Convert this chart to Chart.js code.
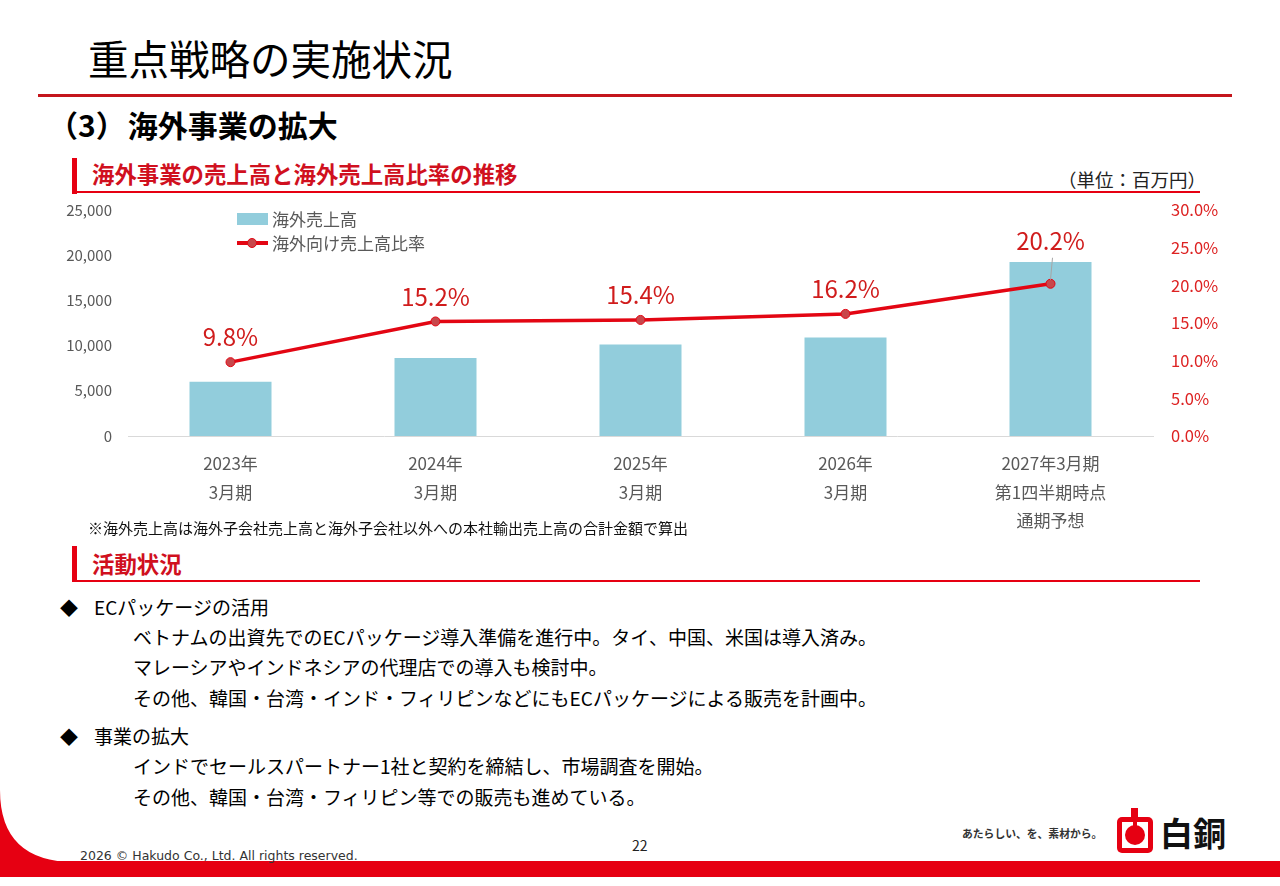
<!DOCTYPE html>
<html lang="ja">
<head>
<meta charset="utf-8">
<title>重点戦略の実施状況</title>
<script src="https://cdn.jsdelivr.net/npm/chart.js@4.4.1/dist/chart.umd.min.js"></script>
<style>
  html, body { margin: 0; padding: 0; background: #fff; }
  body { width: 1280px; height: 886px; position: relative; overflow: hidden;
         font-family: "Noto Sans CJK JP", "Noto Sans", sans-serif; color: #000; }
  .abs { position: absolute; line-height: 1; white-space: nowrap; }
  .title { left: 88px; top: 38px; font-size: 40.5px; font-weight: 400; }
  .rule { left: 38px; top: 94px; width: 1194px; height: 3px; background: #c4161c; }
  .sub { left: 48px; top: 109px; font-size: 30px; font-weight: 700; }
  .secbar { left: 72px; width: 5px; height: 36px; background: #e60012; }
  .sechead { left: 92px; font-size: 22.4px; font-weight: 700; color: #d0101e; }
  .secline { left: 72px; width: 1128px; height: 2px; background: #e60012; }
  .unit { left: 1058px; top: 170px; font-size: 18.5px; color: #222; }
  .note { left: 88px; top: 520px; font-size: 15px; color: #111; }
  .bul { left: 60px; font-size: 18px; }
  .bt { left: 94px; font-size: 19px; }
  .body { left: 133px; font-size: 19px; }
  .lg-sw { left: 237px; top: 213px; width: 31px; height: 12px; background: #92cddc; }
  .lg-ln { left: 237px; top: 241px; width: 31px; height: 4px; background: #e30613; }
  .lg-dot { left: 247px; top: 238px; width: 8px; height: 8px; border-radius: 50%;
            background: #c8474b; border: 1px solid #e30613; }
  .lg-tx { left: 272px; font-size: 17px; color: #595959; }
  #wrap { position: absolute; left: 40px; top: 190px; }
  .band { left: 0; top: 861px; width: 1280px; height: 16px; background: #e60012; }
  .copy { left: 80px; top: 850px; font-size: 12.5px; font-family: "DejaVu Sans", sans-serif; color: #333; }
  .page { left: 632px; top: 838px; font-size: 14px; color: #222; }
  .tag { left: 962px; top: 828px; font-size: 10.8px; font-weight: 700; color: #333; }
  .brand { left: 1160px; top: 816px; font-size: 33px; font-weight: 700; color: #111; }
</style>
</head>
<body>

<div class="abs title">重点戦略の実施状況</div>
<div class="abs rule"></div>
<div class="abs sub">（3）<span style="margin-left:2px">海外事業の拡大</span></div>

<div class="abs secbar" style="top:158px"></div>
<div class="abs sechead" style="top:162px">海外事業の売上高と海外売上高比率の推移</div>
<div class="abs secline" style="top:191px"></div>
<div class="abs unit">（単位：百万円）</div>

<div id="wrap"><canvas id="salesChart" width="1200" height="356"></canvas></div>

<div class="abs lg-sw"></div>
<div class="abs lg-tx" style="top:210px">海外売上高</div>
<div class="abs lg-ln"></div>
<div class="abs lg-dot"></div>
<div class="abs lg-tx" style="top:234px">海外向け売上高比率</div>

<div class="abs note">※海外売上高は海外子会社売上高と海外子会社以外への本社輸出売上高の合計金額で算出</div>

<div class="abs secbar" style="top:546px"></div>
<div class="abs sechead" style="top:552px">活動状況</div>
<div class="abs secline" style="top:580px"></div>

<div class="abs bul" style="top:598px">◆</div>
<div class="abs bt" style="top:597px">ECパッケージの活用</div>
<div class="abs body" style="top:627px">ベトナムの出資先でのECパッケージ導入準備を進行中。タイ、中国、米国は導入済み。</div>
<div class="abs body" style="top:657px">マレーシアやインドネシアの代理店での導入も検討中。</div>
<div class="abs body" style="top:688px">その他、韓国・台湾・インド・フィリピンなどにもECパッケージによる販売を計画中。</div>
<div class="abs bul" style="top:727px">◆</div>
<div class="abs bt" style="top:726px">事業の拡大</div>
<div class="abs body" style="top:756px">インドでセールスパートナー1社と契約を締結し、市場調査を開始。</div>
<div class="abs body" style="top:787px">その他、韓国・台湾・フィリピン等での販売も進めている。</div>

<svg class="abs" style="left:0;top:760px" width="120" height="126">
  <path d="M0,30 Q0,102 75,102 L75,117 L0,117 Z" fill="#e60012"/>
</svg>
<div class="abs band"></div>
<div class="abs copy">2026 © Hakudo Co., Ltd. All rights reserved.</div>
<div class="abs page">22</div>
<div class="abs tag">あたらしい、を、素材から。</div>
<svg class="abs" style="left:1112px;top:805px" width="46" height="52">
  <rect x="19" y="3" width="7" height="12" fill="#e60012"/>
  <rect x="5" y="12" width="36" height="36" rx="5" fill="#e60012"/>
  <rect x="10" y="17" width="26" height="26" fill="#fff"/>
  <circle cx="23" cy="30" r="10" fill="#e60012"/>
  <rect x="21" y="14" width="4" height="11" fill="#e60012"/>
</svg>
<div class="abs brand">白銅</div>

<script>
const categories = [
  ['2023年', '3月期'],
  ['2024年', '3月期'],
  ['2025年', '3月期'],
  ['2026年', '3月期'],
  ['2027年3月期', '第1四半期時点', '通期予想']
];
const overseasSales = [6000, 8630, 10110, 10890, 19250];   // 百万円
const overseasRatio = [9.8, 15.2, 15.4, 16.2, 20.2];       // %
const salesTicks = { min: 0, max: 25000, step: 5000 };
const ratioTicks = { min: 0, max: 30, step: 5 };
const leaderIndex = 4;

const BAR = '#92cddc';
const RED = '#e30613';
const GRAY = '#595959';
const FONT = '"Noto Sans CJK JP", "Noto Sans", sans-serif';

const pctLabels = {
  id: 'pctLabels',
  afterDatasetsDraw(chart) {
    const ctx = chart.ctx;
    const meta = chart.getDatasetMeta(1);
    ctx.save();
    ctx.font = '24px ' + FONT;
    ctx.fillStyle = '#d01c1c';
    ctx.textAlign = 'center';
    ctx.textBaseline = 'middle';
    meta.data.forEach((pt, i) => {
      let lift = 25;
      if (i === leaderIndex) {
        lift = 43;
        ctx.strokeStyle = '#a6a6a6';
        ctx.lineWidth = 1;
        ctx.beginPath();
        ctx.moveTo(pt.x, pt.y - 4);
        ctx.lineTo(pt.x + 2, pt.y - 26);
        ctx.stroke();
      }
      ctx.fillText(overseasRatio[i].toFixed(1) + '%', pt.x, pt.y - lift);
    });
    ctx.restore();
  }
};

new Chart(document.getElementById('salesChart'), {
  data: {
    labels: categories,
    datasets: [
      {
        type: 'bar',
        label: '海外売上高',
        data: overseasSales,
        backgroundColor: BAR,
        barPercentage: 0.8,
        categoryPercentage: 0.5,
        yAxisID: 'y',
        order: 1
      },
      {
        type: 'line',
        label: '海外向け売上高比率',
        data: overseasRatio,
        borderColor: RED,
        borderWidth: 3.5,
        tension: 0,
        pointRadius: 4.5,
        pointBackgroundColor: '#c8474b',
        pointBorderColor: RED,
        pointBorderWidth: 1,
        yAxisID: 'y1',
        order: 0
      }
    ]
  },
  options: {
    responsive: false,
    animation: false,
    layout: { padding: { top: 10, left: 0, right: 0, bottom: 0 } },
    plugins: { legend: { display: false }, tooltip: { enabled: false } },
    scales: {
      x: {
        grid: { display: false },
        border: { display: true, color: '#d9d9d9', width: 1 },
        ticks: { color: GRAY, font: { family: FONT, size: 17, lineHeight: 1.65 }, padding: 6, maxRotation: 0 },
        afterFit(s) { s.height = 110; }
      },
      y: {
        position: 'left',
        min: salesTicks.min, max: salesTicks.max,
        grid: { display: false },
        border: { display: false },
        ticks: {
          stepSize: salesTicks.step, color: GRAY, padding: 8,
          font: { family: FONT, size: 15 },
          callback: v => v.toLocaleString('en-US')
        },
        afterFit(s) { s.width = 88; }
      },
      y1: {
        position: 'right',
        min: ratioTicks.min, max: ratioTicks.max,
        grid: { display: false },
        border: { display: false },
        ticks: {
          stepSize: ratioTicks.step, color: '#dd2222', padding: 10,
          font: { family: FONT, size: 16.5 },
          callback: v => v.toFixed(1) + '%'
        },
        afterFit(s) { s.width = 87; }
      }
    }
  },
  plugins: [pctLabels]
});
</script>
</body>
</html>
